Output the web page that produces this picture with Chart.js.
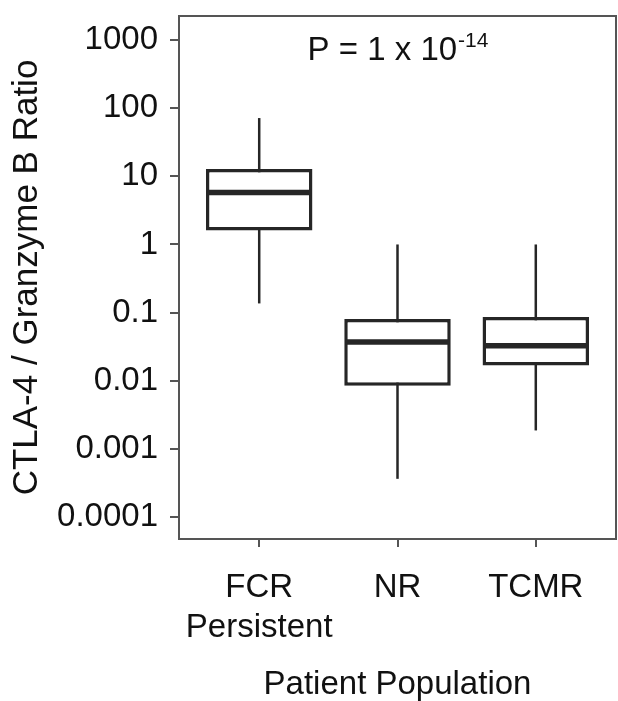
<!DOCTYPE html>
<html>
<head>
<meta charset="UTF-8">
<title>CTLA-4 / Granzyme B Ratio</title>
<script src="https://cdn.jsdelivr.net/npm/chart.js"></script>
<style>
  body { margin: 0; background: #fff; }
  #wrap { width: 618px; height: 701px; }
</style>
</head>
<body>
<div id="wrap"><canvas id="boxChart"></canvas></div>
<script>
// values (log scale)
var categories = [['FCR', 'Persistent'], 'NR', 'TCMR'];
var whiskerLow  = [0.136, 0.00036, 0.00185];
var q1          = [1.6, 0.0084, 0.0166];
var median      = [5.8, 0.037, 0.0325];
var q3          = [12.9, 0.080, 0.086];
var whiskerHigh = [72, 1, 1];
var yTicks = [1000, 100, 10, 1, 0.1, 0.01, 0.001, 0.0001];
var pText = 'P = 1 x 10';
var pExp = '-14';

var FONT = '"Liberation Sans", Arial, sans-serif';
var INK = '#262626';
var positions = categories.map(function (c, i) { return i; });

var boxData = positions.map(function (p, i) {
    return { x: p, y: [q1[i], q3[i]] };
});

var boxPlot = {
    id: 'boxPlot',
    beforeDatasetsDraw: function (chart) {
        var ctx = chart.ctx, xs = chart.scales.x, ys = chart.scales.y;
        ctx.save();
        ctx.strokeStyle = INK;
        ctx.lineWidth = 2.5;
        positions.forEach(function (p, i) {
            var px = xs.getPixelForValue(p);
            ctx.beginPath();
            ctx.moveTo(px, ys.getPixelForValue(whiskerLow[i]));
            ctx.lineTo(px, ys.getPixelForValue(whiskerHigh[i]));
            ctx.stroke();
        });
        ctx.restore();
    },
    afterDatasetsDraw: function (chart) {
        var ctx = chart.ctx, ys = chart.scales.y, xs = chart.scales.x;
        var meta = chart.getDatasetMeta(0);
        ctx.save();
        // medians
        ctx.strokeStyle = INK;
        ctx.lineWidth = 5.5;
        meta.data.forEach(function (bar, i) {
            var half = bar.width / 2 - 1.5;
            var py = ys.getPixelForValue(median[i]);
            ctx.beginPath();
            ctx.moveTo(bar.x - half, py);
            ctx.lineTo(bar.x + half, py);
            ctx.stroke();
        });
        // frame
        var a = chart.chartArea;
        ctx.strokeStyle = '#555';
        ctx.lineWidth = 2;
        ctx.strokeRect(a.left, a.top, a.right - a.left, a.bottom - a.top);
        // p value
        ctx.fillStyle = '#111';
        ctx.textBaseline = 'alphabetic';
        ctx.font = '33px ' + FONT;
        var w1 = ctx.measureText(pText).width;
        ctx.font = '21px ' + FONT;
        var w2 = ctx.measureText(pExp).width;
        var cx = xs.getPixelForValue(1);
        var base = ys.getPixelForValue(1000) + 20;
        var left = cx - (w1 + w2) / 2;
        ctx.font = '33px ' + FONT;
        ctx.fillText(pText, left, base);
        ctx.font = '21px ' + FONT;
        ctx.fillText(pExp, left + w1 + 1, base - 13);
        ctx.restore();
    }
};

var ctx = document.getElementById('boxChart').getContext('2d');
var chart = new Chart(ctx, {
    type: 'bar',
    data: {
        datasets: [{
            data: boxData,
            backgroundColor: '#fff',
            borderColor: INK,
            borderWidth: 3.5,
            borderSkipped: false,
            barPercentage: 0.77,
            categoryPercentage: 1
        }]
    },
    options: {
        responsive: true,
        maintainAspectRatio: false,
        animation: false,
        layout: { padding: { top: 16, right: 2, left: 0, bottom: 0 } },
        plugins: { legend: { display: false }, tooltip: { enabled: false } },
        scales: {
            x: {
                type: 'linear',
                offset: false,
                min: -0.58,
                max: 2.58,
                afterBuildTicks: function (scale) {
                    scale.ticks = positions.map(function (p) { return { value: p }; });
                },
                afterFit: function (scale) {
                    scale.height = 162;
                    scale.paddingLeft = 0;
                    scale.paddingRight = 0;
                },
                border: { display: false },
                grid: { offset: false, drawOnChartArea: false, drawTicks: true, tickLength: 8, tickColor: '#555', lineWidth: 2 },
                ticks: {
                    color: '#111',
                    padding: 21,
                    maxRotation: 0,
                    autoSkip: false,
                    font: { family: FONT, size: 33, lineHeight: 1.22 },
                    callback: function (v) { return categories[v]; }
                },
                title: {
                    display: true,
                    text: 'Patient Population',
                    color: '#111',
                    padding: { top: 0, bottom: 0 },
                    font: { family: FONT, size: 33, lineHeight: 1 }
                }
            },
            y: {
                type: 'logarithmic',
                min: 4.7e-5,
                max: 2275,
                afterBuildTicks: function (scale) {
                    scale.ticks = yTicks.map(function (v) { return { value: v }; });
                },
                afterFit: function (scale) {
                    scale.width = 179;
                    scale.paddingTop = 0;
                    scale.paddingBottom = 0;
                },
                border: { display: false },
                grid: { drawOnChartArea: false, drawTicks: true, tickLength: 9, tickColor: '#555', lineWidth: 2 },
                ticks: {
                    color: '#111',
                    padding: 12,
                    font: { family: FONT, size: 33 },
                    callback: function (v) { return String(v); }
                },
                title: {
                    display: true,
                    text: 'CTLA-4 / Granzyme B Ratio',
                    color: '#111',
                    padding: { top: 10, bottom: 0 },
                    font: { family: FONT, size: 35, lineHeight: 1 }
                }
            }
        }
    },
    plugins: [boxPlot]
});
</script>
</body>
</html>
